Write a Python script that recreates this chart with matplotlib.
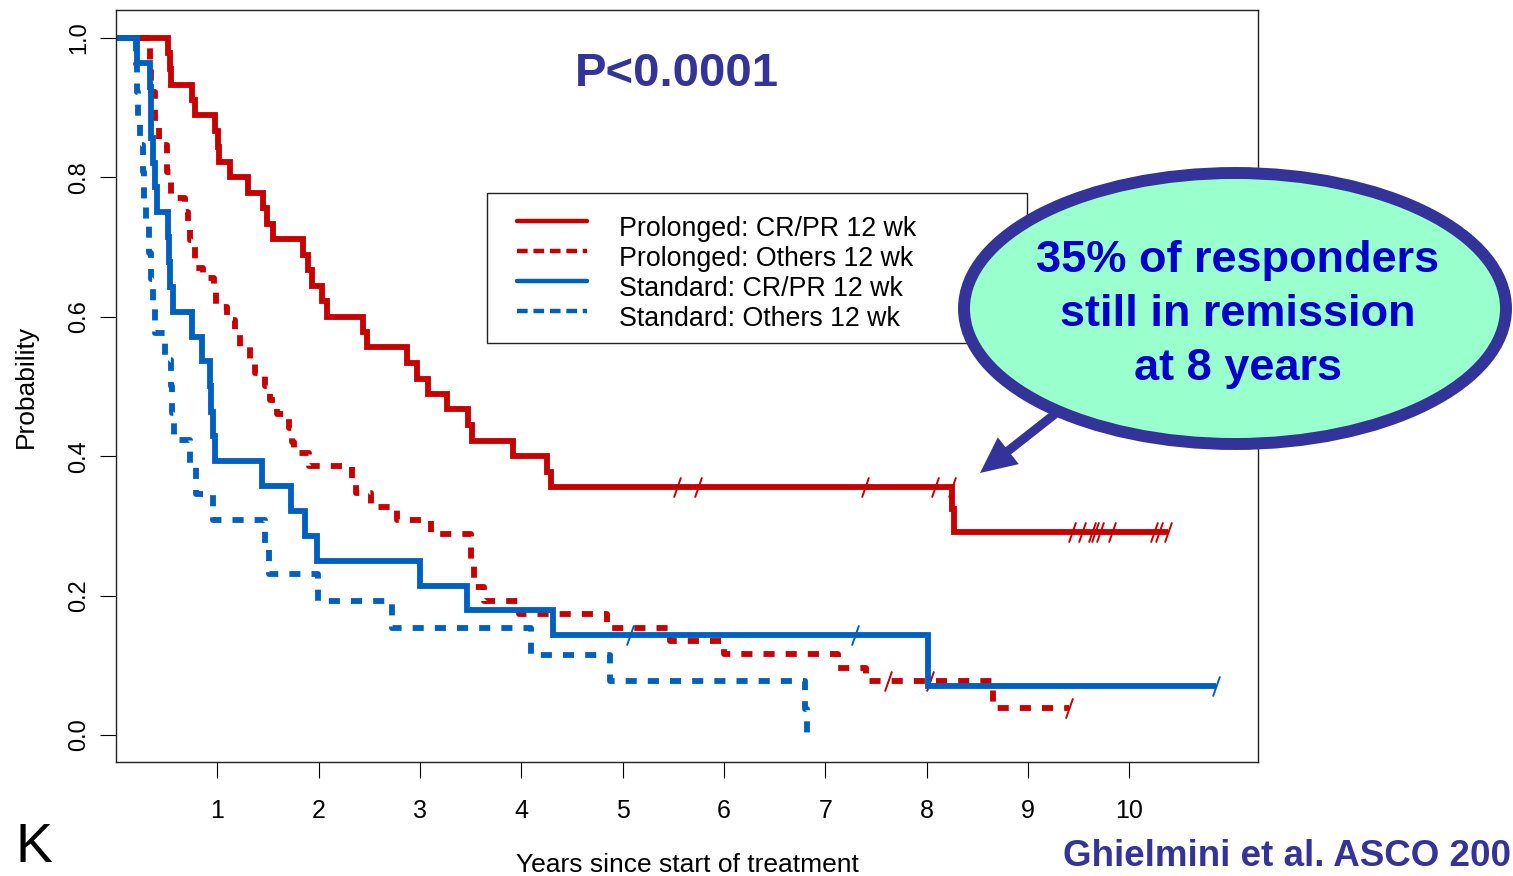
import numpy as np
import matplotlib
matplotlib.use("Agg")
import matplotlib.pyplot as plt
from matplotlib.patches import Ellipse, Rectangle, FancyArrow
from matplotlib.path import Path
from matplotlib.lines import Line2D

plt.rcParams['font.family'] = ['Liberation Sans', 'DejaVu Sans']

# Kaplan-Meier step data: event times (years) and survival after each step
pro_crpr_t = [0, 0.516, 0.53, 0.54, 0.747, 0.78, 0.977, 1.01, 1.02, 1.125, 1.30, 1.45,
              1.487, 1.55, 1.845, 1.89, 1.93, 2.03, 2.08, 2.44, 2.48, 2.87, 2.97, 3.08,
              3.27, 3.47, 3.51, 3.92, 4.25, 4.29, 8.25, 8.27]
pro_crpr_s = [1.0, 0.978, 0.956, 0.933, 0.911, 0.889, 0.867, 0.844, 0.822, 0.800, 0.778, 0.756,
              0.733, 0.711, 0.689, 0.667, 0.644, 0.622, 0.600, 0.578, 0.556, 0.533, 0.511, 0.489,
              0.467, 0.444, 0.422, 0.400, 0.378, 0.356, 0.324, 0.291]
pro_crpr_end = 10.38
pro_crpr_cens = [5.54, 5.74, 7.39, 8.08, 8.25, 9.43, 9.53, 9.63, 9.66, 9.71, 9.83,
                 10.24, 10.29, 10.38]

pro_oth_t = [0, 0.34, 0.345, 0.38, 0.42, 0.50, 0.54, 0.68, 0.71, 0.73, 0.78, 0.86, 0.97,
             0.99, 1.10, 1.17, 1.22, 1.32, 1.37, 1.47, 1.52, 1.59, 1.71, 1.74, 1.76, 1.90,
             2.33, 2.37, 2.52, 2.77, 3.11, 3.50, 3.53, 3.63, 3.98, 4.85, 5.47, 6.00,
             7.13, 7.40, 8.65]
pro_oth_s = [1.0, 0.962, 0.923, 0.885, 0.846, 0.808, 0.770, 0.750, 0.730, 0.710, 0.670, 0.656,
             0.635, 0.614, 0.595, 0.575, 0.557, 0.538, 0.520, 0.500, 0.480, 0.460, 0.440,
             0.420, 0.405, 0.386, 0.367, 0.347, 0.327, 0.308, 0.288, 0.250, 0.212, 0.192,
             0.174, 0.153, 0.135, 0.116, 0.096, 0.077, 0.039]
pro_oth_end = 9.40
pro_oth_cens = [7.62, 8.03, 9.40]

std_crpr_t = [0, 0.21, 0.335, 0.345, 0.35, 0.37, 0.38, 0.40, 0.51, 0.52, 0.53, 0.56, 0.75,
              0.85, 0.93, 0.94, 0.96, 0.98, 1.44, 1.73, 1.865, 1.98, 3.00, 3.46, 4.31, 8.01]
std_crpr_s = [1.0, 0.964, 0.929, 0.893, 0.857, 0.821, 0.786, 0.750, 0.714, 0.679, 0.643,
              0.607, 0.571, 0.536, 0.500, 0.464, 0.429, 0.393, 0.357, 0.321, 0.286, 0.250,
              0.214, 0.179, 0.143, 0.071]
std_crpr_end = 10.86
std_crpr_cens = [5.07, 7.29, 10.86]

std_oth_t = [0, 0.20, 0.21, 0.22, 0.24, 0.27, 0.28, 0.30, 0.33, 0.35, 0.37, 0.38, 0.48,
             0.54, 0.55, 0.57, 0.73, 0.79, 0.96, 1.47, 1.51, 1.99, 2.72, 4.10, 4.88, 6.80, 6.82]
std_oth_s = [1.0, 0.962, 0.923, 0.885, 0.846, 0.808, 0.769, 0.731, 0.692, 0.654, 0.615,
             0.577, 0.538, 0.500, 0.462, 0.423, 0.385, 0.346, 0.308, 0.269, 0.231, 0.192,
             0.154, 0.115, 0.077, 0.038, 0.0]
std_oth_end = 6.82
std_oth_cens = []

labels = ["Prolonged: CR/PR 12 wk", "Prolonged: Others 12 wk",
          "Standard: CR/PR 12 wk", "Standard: Others 12 wk"]

RED = '#c80000'
BLUE = '#0060c0'
NAVY = '#333399'
LW = 4.2
DOT = (0, (1.9, 1.9))

W, H = 1513, 876
fig = plt.figure(figsize=(W / 100, H / 100), dpi=100)
ax = fig.add_axes([116 / W, 1 - 762 / H, (1258 - 116) / W, (762 - 10) / H])

slash = Path([(-0.35, -1.0), (0.35, 1.0)], [Path.MOVETO, Path.LINETO])


def km_curve(ax, t, s, end, cens, color, ls):
    tt = list(t) + [end]
    ss = list(s) + [s[-1]]
    ax.step(tt, ss, where='post', color=color, lw=LW, linestyle=ls,
            solid_capstyle='butt', solid_joinstyle='miter')
    if cens:
        idx = np.searchsorted(t, cens, side='left') - 1
        ax.plot(cens, np.array(s)[idx], linestyle='none', marker=slash,
                markersize=14.5, mew=1.4, color=color)


km_curve(ax, pro_crpr_t, pro_crpr_s, pro_crpr_end, pro_crpr_cens, RED, '-')
km_curve(ax, pro_oth_t, pro_oth_s, pro_oth_end, pro_oth_cens, RED, DOT)
km_curve(ax, std_oth_t, std_oth_s, std_oth_end, std_oth_cens, BLUE, DOT)
km_curve(ax, std_crpr_t, std_crpr_s, std_crpr_end, std_crpr_cens, BLUE, '-')

ax.set_xlim(0, 11.27)
ax.set_ylim(-0.0387, 1.040)
ax.set_xticks(range(1, 11))
ax.set_xticklabels([str(i) for i in range(1, 11)], fontsize=18)
yt = [0.0, 0.2, 0.4, 0.6, 0.8, 1.0]
ax.set_yticks(yt)
ax.set_yticklabels(["%.1f" % v for v in yt], fontsize=17, rotation=90, va='center')
ax.tick_params(axis='x', length=11.5, width=0.8, pad=15)
ax.tick_params(axis='y', length=11.5, width=0.8, pad=7)
for sp in ax.spines.values():
    sp.set_linewidth(1.0)
    sp.set_color('#222222')
ax.set_xlabel("Years since start of treatment", fontsize=19, labelpad=22)
ax.set_ylabel("Probability", fontsize=19, labelpad=22)

# overlay in pixel coordinates for the annotations
ov = fig.add_axes([0, 0, 1, 1])
ov.set_xlim(0, W)
ov.set_ylim(H, 0)
ov.axis('off')

# legend box
ov.add_patch(Rectangle((487, 193), 540, 150, facecolor='white', edgecolor='#222222', lw=1.0))
leg_colors = [RED, RED, BLUE, BLUE]
leg_styles = ['-', (0, (2.4, 1.3)), '-', (0, (2.4, 1.3))]
for i, (lab, c, st) in enumerate(zip(labels, leg_colors, leg_styles)):
    y = 220.5 + 30.2 * i
    ov.add_line(Line2D([517, 587], [y, y], color=c, lw=3.2, linestyle=st,
                       solid_capstyle='round'))
    ov.text(619, y + 15, lab, fontsize=19.3, ha='left', va='baseline', color='black')

ov.text(677, 74, "P<0.0001", fontsize=34, fontweight='bold', color=NAVY,
        ha='center', va='center')

# callout bubble with arrow
ov.add_patch(FancyArrow(1055, 414, -75, 59, width=9, head_width=34, head_length=36,
                        length_includes_head=True, color=NAVY, lw=0))
ov.add_patch(Ellipse((1235, 308.5), 542, 271, facecolor='#99ffcc', edgecolor=NAVY, lw=8.6))
for txt, yb in zip(["35% of responders", "still in remission", "at 8 years"], [272, 326, 380]):
    ov.text(1238, yb, txt, fontsize=32.5, fontweight='bold', color='#0000cc',
            ha='center', va='baseline')

ov.text(1063, 866, "Ghielmini et al. ASCO 200", fontsize=26.5, fontweight='bold',
        color=NAVY, ha='left', va='baseline')
ov.text(52, 874, "K", fontsize=40, color='black', ha='right', va='bottom')

fig.savefig("out.png", dpi=100)
